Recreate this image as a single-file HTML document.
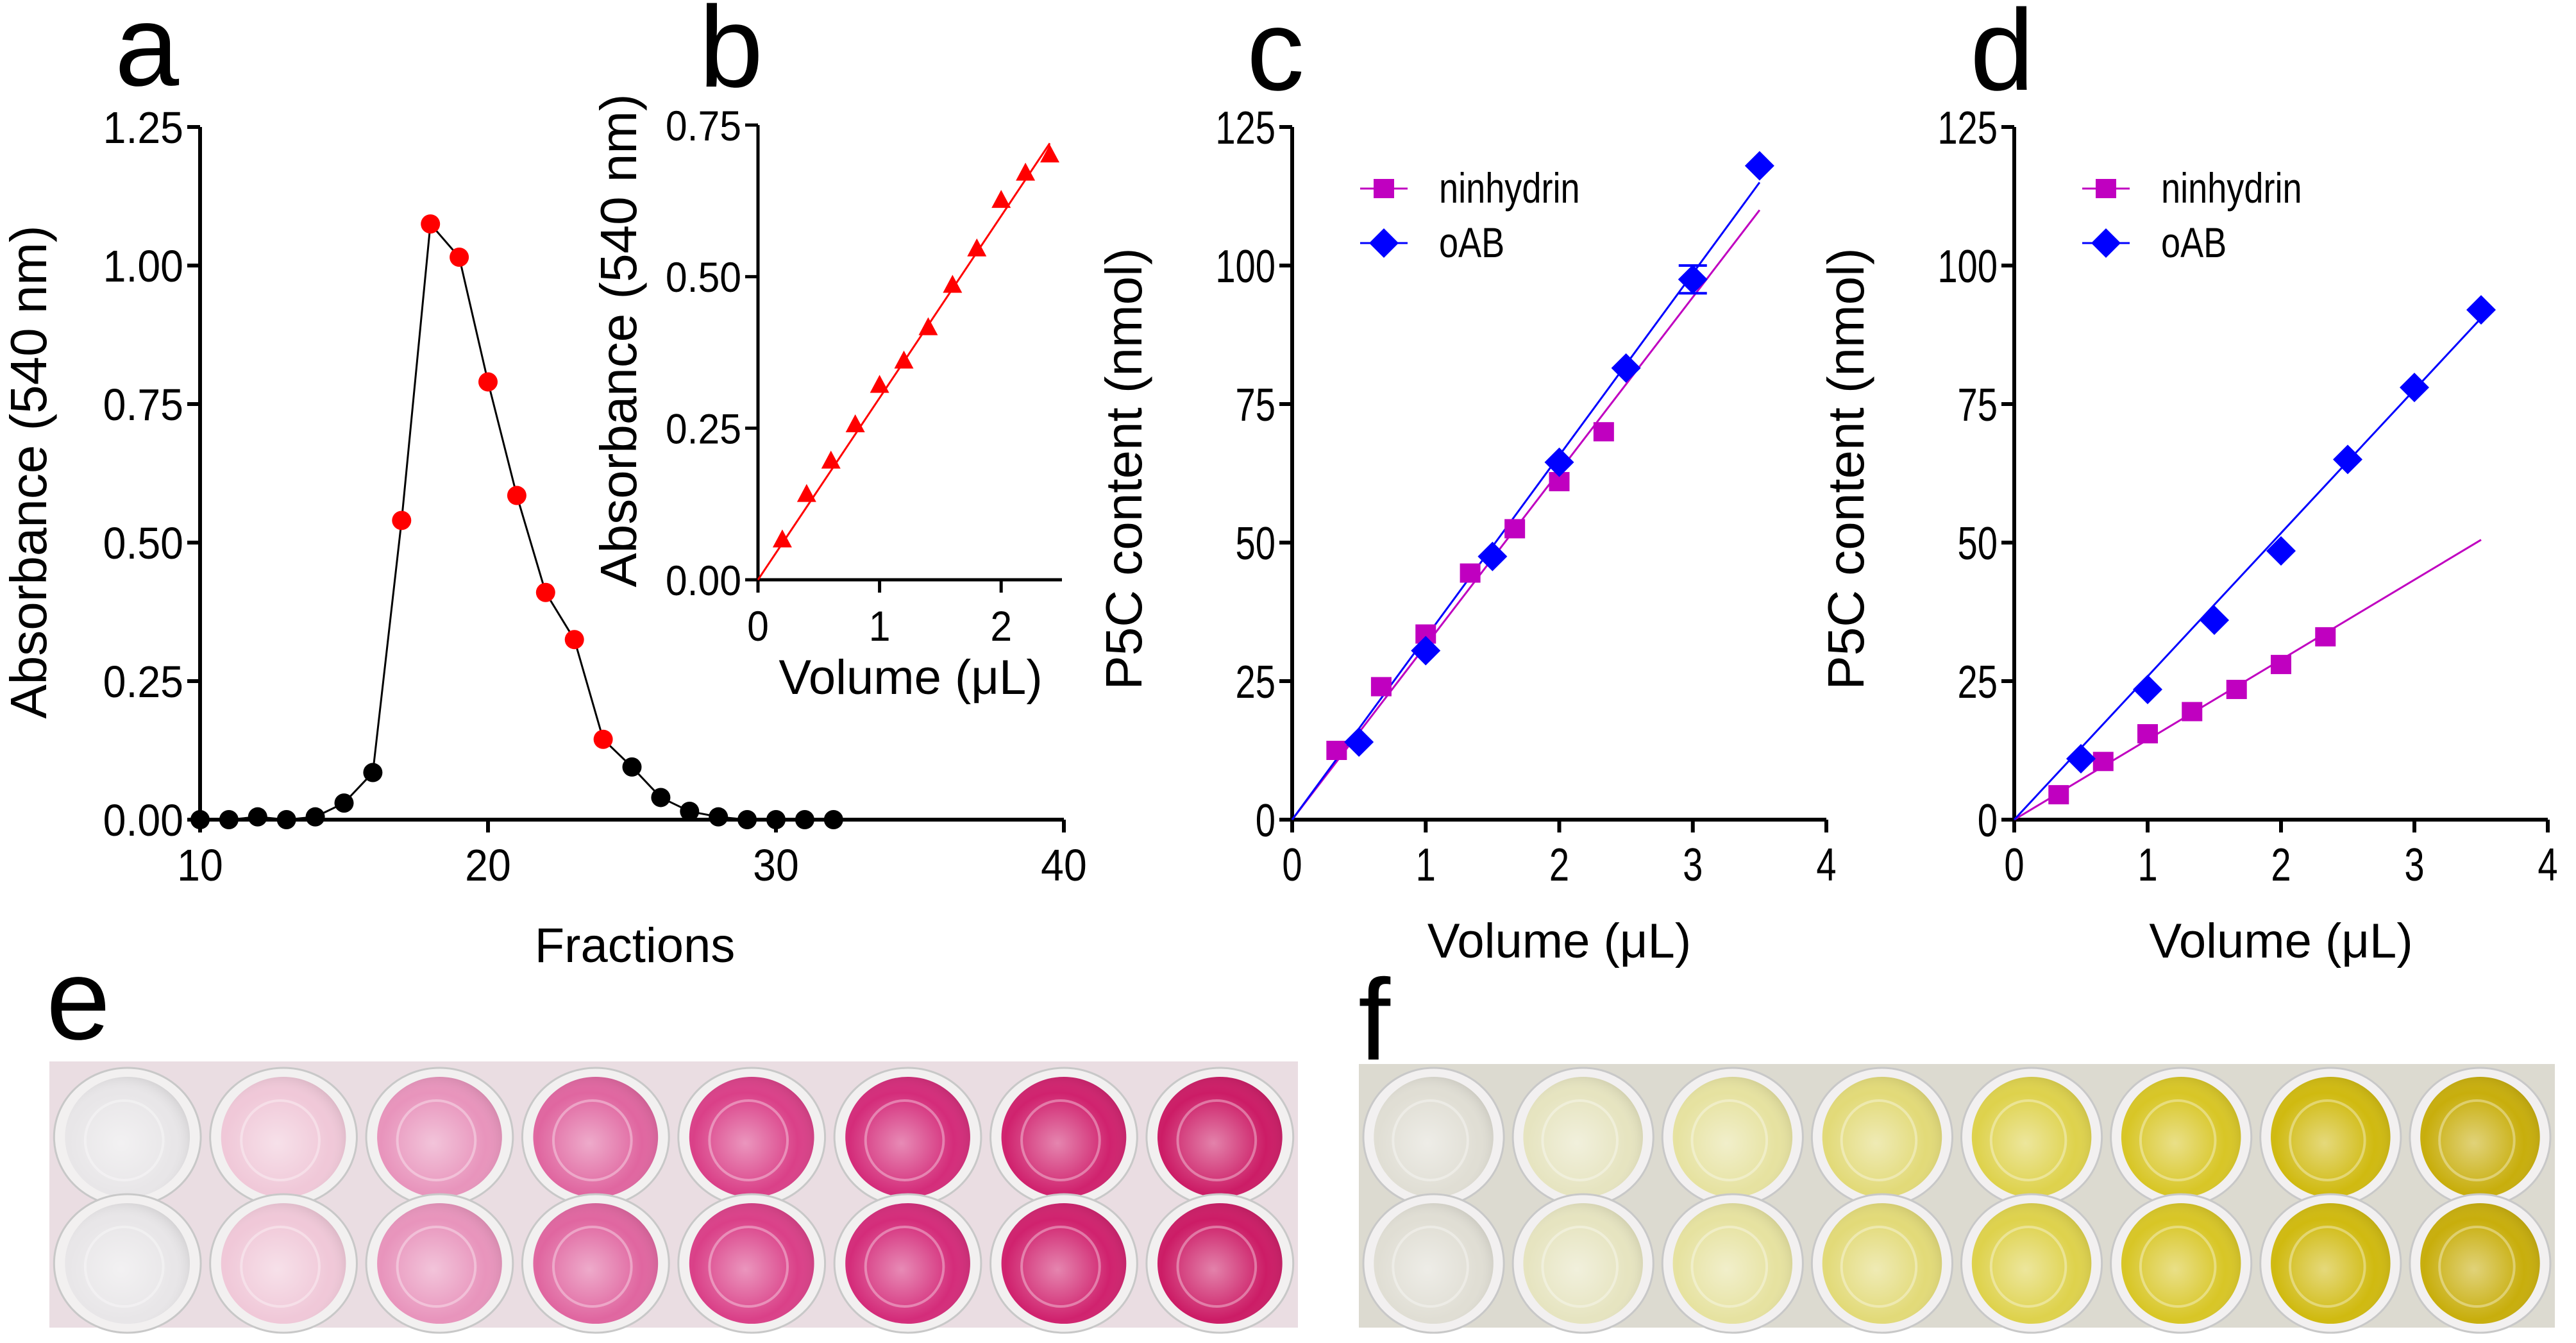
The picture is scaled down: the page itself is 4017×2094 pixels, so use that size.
<!DOCTYPE html>
<html><head><meta charset="utf-8"><style>
html,body{margin:0;padding:0;background:#fff;}
svg{display:block;font-family:"Liberation Sans",sans-serif;}
</style></head><body>
<svg id="fig" width="4017" height="2094" viewBox="0 0 4017 2094" xmlns="http://www.w3.org/2000/svg">
<defs>
<radialGradient id="gw" cx="0.45" cy="0.55" r="0.6"><stop offset="0" stop-color="#fff" stop-opacity="0.45"/><stop offset="0.7" stop-color="#fff" stop-opacity="0"/><stop offset="1" stop-color="#000" stop-opacity="0.12"/></radialGradient>
</defs>
<g id="panelA"></g>
<g id="panelB"></g>
<g id="panelC"></g>
<g id="panelD"></g>
<g id="photos"></g>
<text x="179" y="133" font-size="180">a</text>
<text x="1090" y="135" font-size="180">b</text>
<text x="1944" y="140" font-size="180">c</text>
<text x="3072" y="140" font-size="180">d</text>
<text x="72" y="1620" font-size="180">e</text>
<text x="2118" y="1652" font-size="180">f</text>
</svg>
<script>
// Panel a data
const aFractions=[10,11,12,13,14,15,16,17,18,19,20,21,22,23,24,25,26,27,28,29,30,31,32];
const aAbs=[0,0,0.005,0,0.005,0.03,0.085,0.54,1.075,1.015,0.79,0.585,0.41,0.325,0.145,0.095,0.04,0.015,0.005,0,0,0,0];
const aRed=[17,18,19,20,21,22,23,24];
const aXTicks=[10,20,30,40];
const aYTicks=[0,0.25,0.5,0.75,1.0,1.25];
// Panel b data
const bVol=[0.2,0.4,0.6,0.8,1.0,1.2,1.4,1.6,1.8,2.0,2.2,2.4];
const bAbs=[0.065,0.14,0.195,0.255,0.32,0.36,0.415,0.485,0.545,0.625,0.67,0.70];
const bFit=[[0,0],[2.4,0.72]];
const bXTicks=[0,1,2];
const bYTicks=[0,0.25,0.5,0.75];
// Panel c data
const cNinX=[0.333,0.667,1.0,1.333,1.667,2.0,2.333];
const cNinY=[12.5,24,33.5,44.5,52.5,61,70];
const cNinFit=[[0,0],[3.5,110]];
const cOabX=[0.5,1,1.5,2,2.5,3,3.5];
const cOabY=[14,30.5,47.5,64.5,81.5,97.5,118];
const cOabErr=[0,0,0,0,0,2.5,0];
const cOabFit=[[0,0],[3.5,115]];
// Panel d data
const dNinX=[0.333,0.667,1.0,1.333,1.667,2.0,2.333];
const dNinY=[4.5,10.5,15.5,19.5,23.5,28,33];
const dNinFit=[[0,0],[3.5,50.5]];
const dOabX=[0.5,1,1.5,2,2.5,3,3.5];
const dOabY=[11,23.5,36,48.5,65,78,92];
const dOabFit=[[0,0],[3.5,90.5]];
const cdXTicks=[0,1,2,3,4];
const cdYTicks=[0,25,50,75,100,125];

const NS="http://www.w3.org/2000/svg";
function mk(p,tag,at,txt){const e=document.createElementNS(NS,tag);for(const k in at)e.setAttribute(k,at[k]);if(txt!==undefined)e.textContent=txt;p.appendChild(e);return e;}
function scale(d0,d1,r0,r1){return v=>r0+(v-d0)/(d1-d0)*(r1-r0);}
function txt(g,x,y,s,fs,anchor,sx){return mk(g,'text',{x:0,y:0,'font-size':fs,'text-anchor':anchor,transform:`translate(${x} ${y}) scale(${sx} 1)`},s);}
function axes(g,X,Y,x0,x1,y0,y1,xt,yt,fmtX,fmtY,fs,lw,sx){
  const ax=mk(g,'line',{x1:X(x0),y1:Y(y0),x2:X(x1),y2:Y(y0),stroke:'#000','stroke-width':lw});
  
  const ay=mk(g,'line',{x1:X(x0),y1:Y(y0)+lw/2,x2:X(x0),y2:Y(y1),stroke:'#000','stroke-width':lw});
  
  xt.forEach(v=>{mk(g,'line',{x1:X(v),y1:Y(y0),x2:X(v),y2:Y(y0)+20,stroke:'#000','stroke-width':lw});
    const t=txt(g,X(v),Y(y0)+95,fmtX(v),fs,'middle',sx);
    });
  yt.forEach(v=>{mk(g,'line',{x1:X(x0)-20,y1:Y(v),x2:X(x0),y2:Y(v),stroke:'#000','stroke-width':lw});
    const t=txt(g,X(x0)-26,Y(v)+fs*0.36,fmtY(v),fs,'end',sx);
    });
}
function ytitle(g,x,y,s,fs){const t=mk(g,'text',{x:x,y:y,'font-size':fs,'text-anchor':'middle',transform:`rotate(-90 ${x} ${y})`},s);
  }
function xtitle(g,x,y,s,fs){const t=mk(g,'text',{x:x,y:y,'font-size':fs,'text-anchor':'middle'},s);
  }
function sq(g,x,y,c){return mk(g,'rect',{x:x-16,y:y-15,width:32,height:30,fill:c});}
function dia(g,x,y,c){return mk(g,'polygon',{points:`${x},${y-23} ${x+23},${y} ${x},${y+23} ${x-23},${y}`,fill:c});}
function tri(g,x,y,c){return mk(g,'polygon',{points:`${x},${y-17} ${x+15},${y+11} ${x-15},${y+11}`,fill:c});}

// Panel A
(function(){const g=document.getElementById('panelA');
 const X=scale(10,40,312,1659),Y=scale(0,1.25,1278,198);
 axes(g,X,Y,10,40,0,1.25,aXTicks,aYTicks,v=>String(v),v=>v.toFixed(2),70,6,0.92);
 const pts=aFractions.map((f,i)=>X(f)+','+Y(aAbs[i])).join(' ');
 const l=mk(g,'polyline',{points:pts,fill:'none',stroke:'#000','stroke-width':3});
 
 aFractions.forEach((f,i)=>{const c=mk(g,'circle',{cx:X(f),cy:Y(aAbs[i]),r:15,fill:aRed.includes(f)?'#ff0000':'#000'});
  });
 ytitle(g,72,736,'Absorbance (540 nm)',80);xtitle(g,990,1500,'Fractions',76);
})();
// Panel B
(function(){const g=document.getElementById('panelB');
 const X=scale(0,2.5,1182,1656),Y=scale(0,0.75,904,195);
 axes(g,X,Y,0,2.5,0,0.75,bXTicks,bYTicks,v=>String(v),v=>v.toFixed(2),66,5,0.92);
 const f=mk(g,'line',{x1:X(bFit[0][0]),y1:Y(bFit[0][1]),x2:X(bFit[1][0]),y2:Y(bFit[1][1]),stroke:'#ff0000','stroke-width':3});
 
 bVol.forEach((v,i)=>{const t=tri(g,X(v),Y(bAbs[i]),'#ff0000');
  });
 ytitle(g,992,531,'Absorbance (540 nm)',80);xtitle(g,1420,1082,'Volume (\u03bcL)',76);
})();
function cd(id,nx,ny,nf,ox,oy,of,oe,x0,x1){
 const g=document.getElementById(id);
 const X=scale(0,4,x0,x1),Y=scale(0,125,1278,198);
 axes(g,X,Y,0,4,0,125,cdXTicks,cdYTicks,v=>String(v),v=>String(v),72,6,0.78);
 const l1=mk(g,'line',{x1:X(nf[0][0]),y1:Y(nf[0][1]),x2:X(nf[1][0]),y2:Y(nf[1][1]),stroke:'#c000c0','stroke-width':3});
 
 const l2=mk(g,'line',{x1:X(of[0][0]),y1:Y(of[0][1]),x2:X(of[1][0]),y2:Y(of[1][1]),stroke:'#0000ff','stroke-width':3});
 
 nx.forEach((v,i)=>{const s=sq(g,X(v),Y(ny[i]),'#c000c0');
  });
 ox.forEach((v,i)=>{if(oe&&oe[i]){const e=mk(g,'path',{d:`M${X(v)-22},${Y(oy[i]+oe[i])}h44M${X(v)},${Y(oy[i]+oe[i])}V${Y(oy[i]-oe[i])}M${X(v)-22},${Y(oy[i]-oe[i])}h44`,stroke:'#0000ff','stroke-width':4,fill:'none'});
   }
  const d=dia(g,X(v),Y(oy[i]),'#0000ff');
  });
 const lx=x0+143,ly1=294,ly2=379;
 const le1=mk(g,'g',{});
 mk(le1,'line',{x1:lx-37,y1:ly1,x2:lx+37,y2:ly1,stroke:'#c000c0','stroke-width':3});sq(le1,lx,ly1,'#c000c0');
 txt(le1,lx+86,ly1+22,'ninhydrin',66,'start',0.82);
 const le2=mk(g,'g',{});
 mk(le2,'line',{x1:lx-37,y1:ly2,x2:lx+37,y2:ly2,stroke:'#0000ff','stroke-width':3});dia(le2,lx,ly2,'#0000ff');
 txt(le2,lx+86,ly2+22,'oAB',66,'start',0.82);
 ytitle(g,x0-235,731,'P5C content (nmol)',80);xtitle(g,(x0+x1)/2,1493,'Volume (\u03bcL)',76);
}
cd('panelC',cNinX,cNinY,cNinFit,cOabX,cOabY,cOabFit,cOabErr,2015,2848);
cd('panelD',dNinX,dNinY,dNinFit,dOabX,dOabY,dOabFit,null,3141,3973);

// Photos
(function(){const g=document.getElementById('photos');
 const eCols=['#e8e6e8','#f0c8d8','#e894bc','#e066a0','#da4088','#d42c7a','#d0226e','#cc1c66'];
 const fCols=['#e0ded4','#e6e4c0','#e6e2a0','#e2da78','#ded24c','#d8c626','#d0ba10','#c8ae0c'];
 function plate(x0,x1,y0,y1,bg,cols,name){
  const p=mk(g,'g',{});
  mk(p,'rect',{x:x0,y:y0,width:x1-x0,height:y1-y0,fill:bg});
  const n=cols.length,sp=(x1-x0)/n;
  [1773,1970].forEach(cy=>{cols.forEach((c,i)=>{const cx=x0+sp*(i+0.5);
   mk(p,'ellipse',{cx:cx,cy:cy,rx:sp*0.47,ry:108,fill:'#f2f0f0',stroke:'#c8c8c8','stroke-width':3});
   mk(p,'ellipse',{cx:cx,cy:cy,rx:sp*0.4,ry:94,fill:c});
   mk(p,'ellipse',{cx:cx,cy:cy,rx:sp*0.4,ry:94,fill:'url(#gw)'});
   mk(p,'ellipse',{cx:cx-5,cy:cy+5,rx:sp*0.25,ry:62,fill:'none',stroke:'#fff','stroke-opacity':0.35,'stroke-width':4});
  });});
 }
 plate(77,2024,1655,2070,'#eadde2',eCols,'photo-e-ninhydrin-plate');
 plate(2119,3984,1659,2070,'#dcdad0',fCols,'photo-f-oab-plate');
})();
</script>
</body></html>
